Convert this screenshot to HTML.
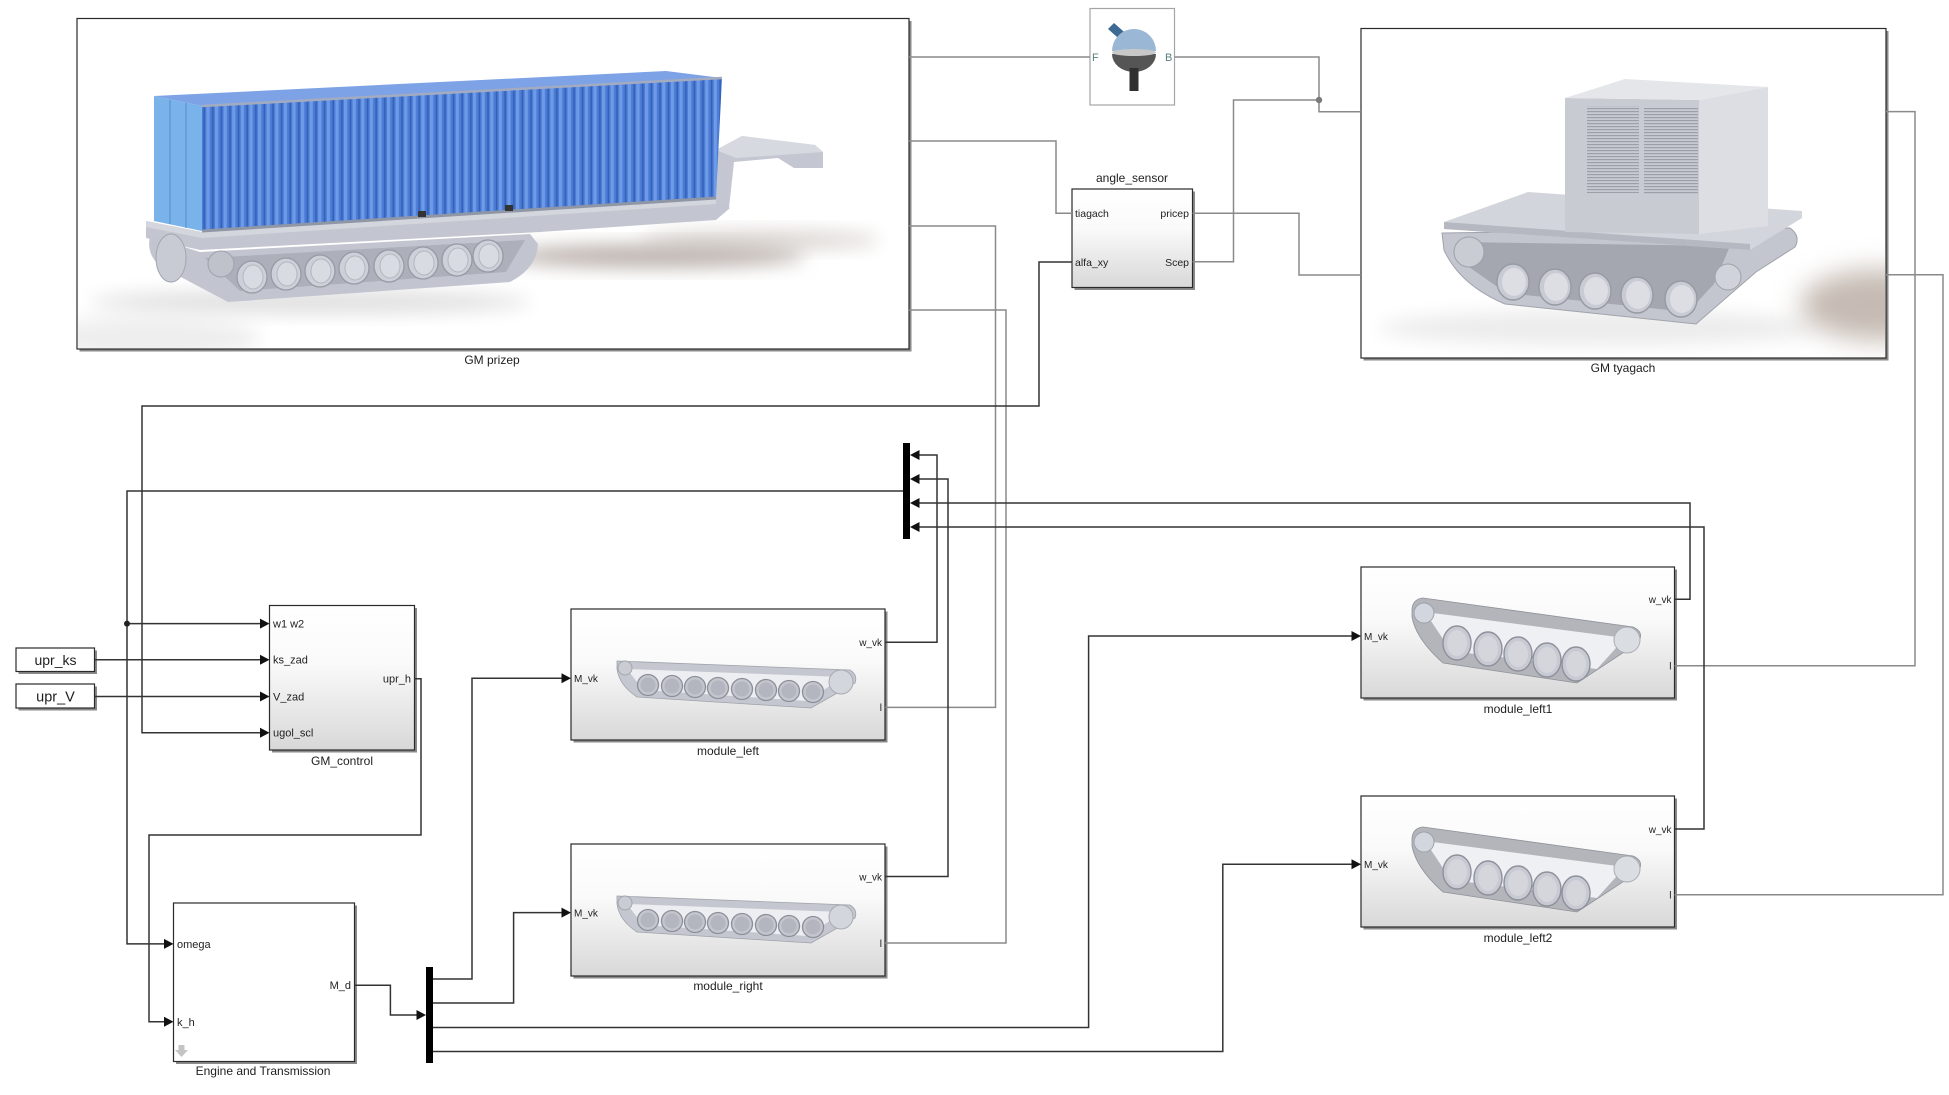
<!DOCTYPE html>
<html><head><meta charset="utf-8">
<style>
html,body{margin:0;padding:0;background:#fff;}
svg{display:block;}
text{font-family:"Liberation Sans",Arial,sans-serif;fill:#1e1e1e;}
</style></head><body>
<svg width="1949" height="1095" viewBox="0 0 1949 1095" xmlns="http://www.w3.org/2000/svg">
<defs>
 <linearGradient id="blk" x1="0" y1="0" x2="0" y2="1">
  <stop offset="0" stop-color="#ffffff"/><stop offset="0.4" stop-color="#fafafa"/><stop offset="1" stop-color="#d8d8d8"/>
 </linearGradient>
 <filter id="b8" x="-50%" y="-50%" width="200%" height="200%"><feGaussianBlur stdDeviation="9"/></filter>
 <filter id="b12" x="-60%" y="-60%" width="220%" height="220%"><feGaussianBlur stdDeviation="13"/></filter>
 <pattern id="corr" width="8.6" height="20" patternUnits="userSpaceOnUse">
  <rect width="8.6" height="20" fill="#4b7cd6"/><rect x="0" width="3.2" height="20" fill="#6e9ae6"/><rect x="5.6" width="1.6" height="20" fill="#3562b8"/>
 </pattern>
 <pattern id="louv" width="6" height="3" patternUnits="userSpaceOnUse">
  <rect width="6" height="3" fill="#c8cad2"/><rect width="6" height="1.2" fill="#9c9fa8"/>
 </pattern>
 <clipPath id="clipP"><rect x="78" y="19.5" width="830" height="328.5"/></clipPath>
 <clipPath id="clipT"><rect x="1362" y="29.5" width="523" height="327.5"/></clipPath>
 <g id="trk8">
  <path d="M46,52 L279,61 Q287,66 284,74 L240,99 L66,88 Q48,76 46,60 Z" fill="#c4c7cf" stroke="#9fa2aa" stroke-width="0.8"/>
  <polygon points="56,60 272,68 236,92 72,81" fill="#eceef1"/>
  <circle cx="54" cy="59" r="7" fill="#c9ccd3" stroke="#a2a5ad"/>
  <circle cx="270" cy="73" r="12" fill="#d3d6dc" stroke="#a8abb3"/>
  <g fill="#c3c6ce" stroke="#8c8f98" stroke-width="1.3">
   <circle cx="77" cy="76" r="10.5"/><circle cx="101" cy="77" r="10.5"/><circle cx="124" cy="78" r="10.5"/><circle cx="147" cy="79" r="10.5"/>
   <circle cx="171" cy="80" r="10.5"/><circle cx="195" cy="81" r="10.5"/><circle cx="218" cy="82" r="10.5"/><circle cx="242" cy="83" r="10.5"/>
  </g>
  <g fill="#b3b6be">
   <circle cx="77" cy="76" r="7.5"/><circle cx="101" cy="77" r="7.5"/><circle cx="124" cy="78" r="7.5"/><circle cx="147" cy="79" r="7.5"/>
   <circle cx="171" cy="80" r="7.5"/><circle cx="195" cy="81" r="7.5"/><circle cx="218" cy="82" r="7.5"/><circle cx="242" cy="83" r="7.5"/>
  </g>
 </g>
 <g id="trk5">
  <path d="M51,42 Q52,32 62,31 L272,60 Q284,65 277,76 L216,116 L82,96 Q55,72 51,50 Z" fill="#b3b5bb" stroke="#8f9299" stroke-width="0.8"/>
  <polygon points="64,45 264,71 236,102 90,84" fill="#eef0f3"/>
  <circle cx="63" cy="46" r="10" fill="#d2d6de" stroke="#9ea1a9"/>
  <circle cx="266" cy="73" r="13" fill="#dadde2" stroke="#a8abb3"/>
  <g fill="#c7cad2" stroke="#8d9099" stroke-width="1.4">
   <ellipse cx="96" cy="76" rx="14" ry="17"/><ellipse cx="127" cy="82" rx="14" ry="17"/><ellipse cx="157" cy="87" rx="14" ry="17"/>
   <ellipse cx="186" cy="93" rx="14" ry="17"/><ellipse cx="215" cy="97" rx="14" ry="17"/>
  </g>
  <g fill="#d4d6dc">
   <ellipse cx="96" cy="76" rx="10" ry="13"/><ellipse cx="127" cy="82" rx="10" ry="13"/><ellipse cx="157" cy="87" rx="10" ry="13"/>
   <ellipse cx="186" cy="93" rx="10" ry="13"/><ellipse cx="215" cy="97" rx="10" ry="13"/>
  </g>
 </g>
</defs>

<!-- ============ GM prizep ============ -->
<rect x="79.5" y="21" width="832" height="330.5" fill="#8a8a8a"/>
<rect x="77" y="18.5" width="832" height="330.5" fill="#fff" stroke="#2a2a2a" stroke-width="1.2"/>
<g clip-path="url(#clipP)">
 <ellipse cx="150" cy="338" rx="110" ry="22" fill="#eeeeee" filter="url(#b8)"/>
 <ellipse cx="310" cy="302" rx="220" ry="12" fill="#e0e0e0" filter="url(#b8)"/>
 <ellipse cx="760" cy="240" rx="120" ry="10" fill="#dcd7d3" filter="url(#b8)"/>
 <ellipse cx="655" cy="256" rx="150" ry="12" fill="#bdb4af" filter="url(#b8)"/>
 <!-- gooseneck -->
 <polygon points="716,150 742,136 815,145 823,152 823,168 794,168 778,158 734,162 729,208 714,218" fill="#c4c7d1"/>
 <polygon points="716,150 742,136 815,145 823,152 736,158" fill="#d7d9e0"/>
 <!-- bed -->
 <polygon points="146,221 202,232 716,198 730,208 716,220 540,232 200,250 146,238" fill="#c3c6d0"/>
 <polygon points="146,221 202,232 716,198 716,204 202,238 146,227" fill="#d4d6dd"/>
 <!-- track -->
 <path d="M150,236 Q146,254 160,266 L228,302 L510,282 Q537,268 538,244 L530,234 L200,252 Z" fill="#c2c5cf"/>
 <polygon points="205,258 525,240 506,272 240,291" fill="#adb0ba"/>
 <ellipse cx="171" cy="258" rx="15" ry="24" fill="#c8cbd4" stroke="#a3a6b0"/>
 <circle cx="221" cy="264" r="13" fill="#bfc2cb" stroke="#9ea1ab"/>
 <g fill="#cdd0d8" stroke="#979aa4" stroke-width="1.3">
  <ellipse cx="252" cy="277" rx="15" ry="16"/><ellipse cx="286" cy="274" rx="15" ry="16"/><ellipse cx="320" cy="271" rx="15" ry="16"/><ellipse cx="354" cy="268" rx="15" ry="16"/>
  <ellipse cx="389" cy="266" rx="15" ry="16"/><ellipse cx="423" cy="263" rx="15" ry="16"/><ellipse cx="457" cy="260" rx="15" ry="16"/><ellipse cx="488" cy="256" rx="15" ry="16"/>
 </g>
 <g fill="#d9dbe2" stroke="#b4b7c0">
  <ellipse cx="253" cy="277" rx="10" ry="12"/><ellipse cx="287" cy="274" rx="10" ry="12"/><ellipse cx="321" cy="271" rx="10" ry="12"/><ellipse cx="355" cy="268" rx="10" ry="12"/>
  <ellipse cx="390" cy="266" rx="10" ry="12"/><ellipse cx="424" cy="263" rx="10" ry="12"/><ellipse cx="458" cy="260" rx="10" ry="12"/><ellipse cx="489" cy="256" rx="10" ry="12"/>
 </g>
 <!-- container -->
 <polygon points="202,106 722,78 716,198 202,231" fill="url(#corr)"/>
 <polygon points="154,96 666,71 722,78 202,106" fill="#7da2e6"/>
 <line x1="202" y1="106" x2="722" y2="78" stroke="#a3abc0" stroke-width="2.5"/>
 <polygon points="154,96 202,106 202,231 154,221" fill="#79b3ea"/>
 <line x1="170" y1="100" x2="170" y2="224" stroke="#5b94cf" stroke-width="1.2"/>
 <line x1="186" y1="103" x2="186" y2="228" stroke="#5b94cf" stroke-width="1.2"/>
 <line x1="202" y1="231" x2="716" y2="198" stroke="#8f96a6" stroke-width="3"/>
 <rect x="418" y="211" width="8" height="6" fill="#333"/>
 <rect x="505" y="205" width="8" height="6" fill="#333"/>
</g>
<text x="492" y="364" font-size="12" text-anchor="middle">GM prizep</text>

<!-- ============ GM tyagach ============ -->
<rect x="1363.5" y="31" width="525" height="329.5" fill="#8a8a8a"/>
<rect x="1361" y="28.5" width="525" height="329.5" fill="#fff" stroke="#2a2a2a" stroke-width="1.2"/>
<g clip-path="url(#clipT)">
 <ellipse cx="1600" cy="328" rx="220" ry="18" fill="#ececec" filter="url(#b8)"/>
 <ellipse cx="1880" cy="305" rx="80" ry="36" fill="#c6bbb4" filter="url(#b12)"/>
 <path d="M1442,233 L1790,228 Q1801,236 1795,247 L1756,272 L1696,324 L1505,304 Q1460,285 1444,250 Z" fill="#c3c6ce" stroke="#a0a3ab"/>
 <polygon points="1458,242 1730,246 1714,284 1688,312 1506,293 1462,262" fill="#a4a7af"/>
 <circle cx="1469" cy="252" r="15" fill="#c9ccd3" stroke="#9ea1a9"/>
 <circle cx="1728" cy="277" r="13" fill="#d0d3d9" stroke="#9ea1a9"/>
 <g fill="#c8cbd3" stroke="#979aa3" stroke-width="1.4">
  <ellipse cx="1513" cy="282" rx="16" ry="18"/><ellipse cx="1555" cy="287" rx="16" ry="18"/><ellipse cx="1595" cy="291" rx="16" ry="18"/>
  <ellipse cx="1637" cy="295" rx="16" ry="18"/><ellipse cx="1681" cy="299" rx="16" ry="18"/>
 </g>
 <g fill="#dcdee3">
  <ellipse cx="1514" cy="282" rx="12" ry="14"/><ellipse cx="1556" cy="287" rx="12" ry="14"/><ellipse cx="1596" cy="291" rx="12" ry="14"/>
  <ellipse cx="1638" cy="295" rx="12" ry="14"/><ellipse cx="1682" cy="299" rx="12" ry="14"/>
 </g>
 <polygon points="1444,222 1528,192 1802,211 1802,218 1750,250 1444,229" fill="#d3d5dc"/>
 <polygon points="1444,222 1750,244 1750,250 1444,229" fill="#b5b8c0"/>
 <polygon points="1565,98 1699,100 1699,234 1565,232" fill="#c9cbd3"/>
 <polygon points="1699,100 1768,87 1768,226 1699,234" fill="#dcdee4"/>
 <polygon points="1565,98 1625,79 1768,87 1699,100" fill="#e4e6ea"/>
 <rect x="1587" y="106" width="52" height="87" fill="url(#louv)"/>
 <rect x="1644" y="108" width="54" height="86" fill="url(#louv)"/>
</g>
<text x="1623" y="372" font-size="12" text-anchor="middle">GM tyagach</text>

<!-- ============ Spherical joint ============ -->
<rect x="1090" y="8.5" width="84.5" height="96.5" fill="#fff" stroke="#a5a5a5" stroke-width="1.2"/>
<polygon points="1108,29 1114,23 1131,38 1125,44" fill="#3c6a94"/>
<path d="M1112,51 A22,22 0 0 1 1156,51 Z" fill="#9ab8d5"/>
<path d="M1112,54 A22,18 0 0 0 1156,54 Z" fill="#555"/>
<ellipse cx="1134" cy="52.5" rx="22" ry="3.5" fill="#c8c8c8"/>
<rect x="1129.5" y="68" width="9" height="23" fill="#2f2f2f"/>
<text x="1092" y="61" font-size="11" style="fill:#5a7e7e">F</text>
<text x="1165" y="61" font-size="11" style="fill:#5a7e7e">B</text>

<!-- ============ angle_sensor ============ -->
<rect x="1074.5" y="191.5" width="120.5" height="98.5" fill="#8a8a8a"/>
<rect x="1072" y="189" width="120.5" height="98.5" fill="url(#blk)" stroke="#2a2a2a" stroke-width="1.2"/>
<text x="1132" y="182" font-size="12" text-anchor="middle">angle_sensor</text>
<text x="1075" y="217" font-size="10.5">tiagach</text>
<text x="1075" y="266" font-size="10.5">alfa_xy</text>
<text x="1189" y="217" font-size="10.5" text-anchor="end">pricep</text>
<text x="1189" y="266" font-size="10.5" text-anchor="end">Scep</text>

<!-- ============ GM_control ============ -->
<rect x="272" y="608" width="145" height="144.5" fill="#8a8a8a"/>
<rect x="269.5" y="605.5" width="145" height="144.5" fill="url(#blk)" stroke="#2a2a2a" stroke-width="1.2"/>
<text x="273" y="627.5" font-size="11">w1 w2</text>
<text x="273" y="663.5" font-size="11">ks_zad</text>
<text x="273" y="700.5" font-size="11">V_zad</text>
<text x="273" y="736.5" font-size="11">ugol_scl</text>
<text x="411" y="682.5" font-size="11" text-anchor="end">upr_h</text>
<text x="342" y="765" font-size="12" text-anchor="middle">GM_control</text>

<!-- upr blocks -->
<rect x="18.5" y="650.5" width="78.5" height="23.5" fill="#8a8a8a"/>
<rect x="16" y="648" width="78.5" height="23.5" fill="#fff" stroke="#2a2a2a" stroke-width="1.2"/>
<text x="55.5" y="665" font-size="14" text-anchor="middle">upr_ks</text>
<rect x="18.5" y="686.5" width="78.5" height="24" fill="#8a8a8a"/>
<rect x="16" y="684" width="78.5" height="24" fill="#fff" stroke="#2a2a2a" stroke-width="1.2"/>
<text x="55.5" y="701.5" font-size="14.5" text-anchor="middle">upr_V</text>

<!-- ============ Engine and Transmission ============ -->
<rect x="176" y="905.5" width="181" height="158.5" fill="#8a8a8a"/>
<rect x="173.5" y="903" width="181" height="158.5" fill="#fff" stroke="#2a2a2a" stroke-width="1.2"/>
<text x="177" y="948" font-size="11">omega</text>
<text x="177" y="1026" font-size="11">k_h</text>
<text x="351" y="989" font-size="11" text-anchor="end">M_d</text>
<polygon points="178.5,1045 184.5,1045 184.5,1050 188,1050 181.5,1057 175,1050 178.5,1050" fill="#c4c4c4"/>
<text x="263" y="1075" font-size="12" text-anchor="middle">Engine and Transmission</text>

<!-- ============ modules ============ -->
<rect x="573.5" y="611.5" width="314" height="131" fill="#8a8a8a"/>
<rect x="571" y="609" width="314" height="131" fill="url(#blk)" stroke="#2a2a2a" stroke-width="1.2"/>
<use href="#trk8" transform="translate(571,609)"/>
<text x="574" y="682" font-size="10">M_vk</text>
<text x="882" y="646" font-size="10" text-anchor="end">w_vk</text>
<text x="882" y="711" font-size="10" text-anchor="end">l</text>
<text x="728" y="755" font-size="12" text-anchor="middle">module_left</text>

<rect x="573.5" y="846.5" width="314" height="132" fill="#8a8a8a"/>
<rect x="571" y="844" width="314" height="132" fill="url(#blk)" stroke="#2a2a2a" stroke-width="1.2"/>
<use href="#trk8" transform="translate(571,844)"/>
<text x="574" y="916.5" font-size="10">M_vk</text>
<text x="882" y="880.5" font-size="10" text-anchor="end">w_vk</text>
<text x="882" y="947" font-size="10" text-anchor="end">l</text>
<text x="728" y="990" font-size="12" text-anchor="middle">module_right</text>

<rect x="1363.5" y="569.5" width="313.5" height="131" fill="#8a8a8a"/>
<rect x="1361" y="567" width="313.5" height="131" fill="url(#blk)" stroke="#2a2a2a" stroke-width="1.2"/>
<use href="#trk5" transform="translate(1361,567)"/>
<text x="1364" y="640" font-size="10">M_vk</text>
<text x="1671.5" y="603" font-size="10" text-anchor="end">w_vk</text>
<text x="1671.5" y="669.5" font-size="10" text-anchor="end">l</text>
<text x="1518" y="713" font-size="12" text-anchor="middle">module_left1</text>

<rect x="1363.5" y="798.5" width="313.5" height="131" fill="#8a8a8a"/>
<rect x="1361" y="796" width="313.5" height="131" fill="url(#blk)" stroke="#2a2a2a" stroke-width="1.2"/>
<use href="#trk5" transform="translate(1361,796)"/>
<text x="1364" y="868" font-size="10">M_vk</text>
<text x="1671.5" y="833" font-size="10" text-anchor="end">w_vk</text>
<text x="1671.5" y="898.5" font-size="10" text-anchor="end">l</text>
<text x="1518" y="942" font-size="12" text-anchor="middle">module_left2</text>

<!-- ============ physical (gray) lines ============ -->
<g fill="none" stroke="#8a8a8a" stroke-width="1.5">
 <path d="M909,57 H1090"/>
 <path d="M1174.5,57 H1319 V111.7 H1361"/>
 <path d="M1319,100 H1233.5 V261.7 H1192.5"/>
 <path d="M1192.5,213.3 H1299 V275 H1361"/>
 <path d="M909,141 H1056 V213.3 H1072"/>
 <path d="M909,226 H995.5 V707.4 H885"/>
 <path d="M909,310 H1006 V943 H885"/>
 <path d="M1886,111.6 H1915 V665.7 H1674.5"/>
 <path d="M1886,274.7 H1943 V894.7 H1674.5"/>
</g>
<circle cx="1319" cy="100" r="3.2" fill="#7a7a7a"/>

<!-- ============ signal (dark) lines ============ -->
<g fill="none" stroke="#333" stroke-width="1.5">
 <path d="M1072,262 H1039 V406 H142 V732.7 H262"/>
 <path d="M903,491 H127 V943.9 H166"/>
 <path d="M127,623.6 H262"/>
 <path d="M94.5,659.7 H262"/>
 <path d="M94.5,696.5 H262"/>
 <path d="M414.5,678.7 H421 V835 H149 V1021.7 H166"/>
 <path d="M354.5,985.2 H390.4 V1015 H418"/>
 <path d="M433,979 H472 V678.3 H564"/>
 <path d="M433,1003 H513.6 V912.6 H564"/>
 <path d="M433,1027.5 H1088.6 V636 H1354"/>
 <path d="M433,1051.5 H1222.8 V864.3 H1354"/>
 <path d="M885,642.2 H937 V455 H917"/>
 <path d="M885,876.5 H948 V479 H917"/>
 <path d="M1674.5,599.3 H1690 V503 H917"/>
 <path d="M1674.5,829 H1704 V527 H917"/>
</g>
<circle cx="127" cy="623.6" r="3" fill="#222"/>

<!-- arrowheads -->
<g fill="#111">
 <polygon points="260,618.6 269.5,623.6 260,628.6"/>
 <polygon points="260,654.7 269.5,659.7 260,664.7"/>
 <polygon points="260,691.5 269.5,696.5 260,701.5"/>
 <polygon points="260,727.7 269.5,732.7 260,737.7"/>
 <polygon points="164,938.9 173.5,943.9 164,948.9"/>
 <polygon points="164,1016.7 173.5,1021.7 164,1026.7"/>
 <polygon points="416.5,1010 426,1015 416.5,1020"/>
 <polygon points="561.5,673.3 571,678.3 561.5,683.3"/>
 <polygon points="561.5,907.6 571,912.6 561.5,917.6"/>
 <polygon points="1351.5,631 1361,636 1351.5,641"/>
 <polygon points="1351.5,859.3 1361,864.3 1351.5,869.3"/>
 <polygon points="919.5,450 910,455 919.5,460"/>
 <polygon points="919.5,474 910,479 919.5,484"/>
 <polygon points="919.5,498 910,503 919.5,508"/>
 <polygon points="919.5,522 910,527 919.5,532"/>
</g>

<!-- mux bars -->
<rect x="903" y="443" width="7" height="96" fill="#000"/>
<rect x="426" y="967" width="7" height="96" fill="#000"/>
</svg>
</body></html>
